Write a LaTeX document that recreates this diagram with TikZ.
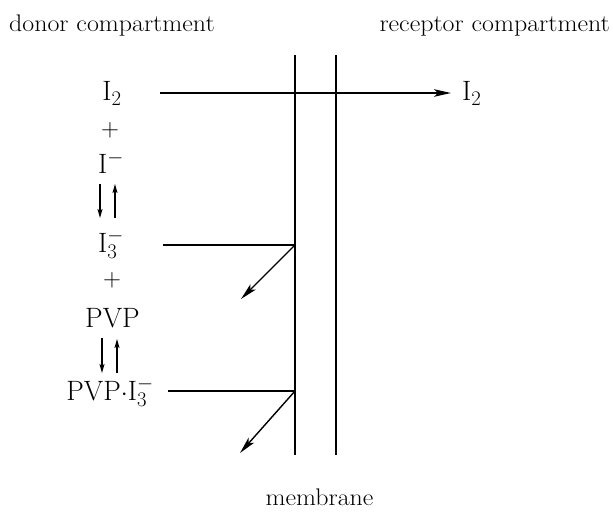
\documentclass[tikz,border=0pt]{standalone}
\usetikzlibrary{arrows.meta}
\newcommand\widetext[1]{\scalebox{1.08}[1]{#1}}
\begin{document}
\begin{tikzpicture}[x=1pt,y=-1pt,
  hdr/.style={font=\fontsize{24}{28}\selectfont, inner sep=0pt},
  chem/.style={font=\fontsize{28}{32}\selectfont, inner sep=0pt},
  wall/.style={line width=1.4pt},
  flow/.style={line width=1.4pt},
  big/.style={-{Stealth[length=17pt,width=7.5pt,inset=4pt]}},
  small/.style={line width=1.3pt,-{Stealth[length=9pt,width=5pt,inset=2pt]}}]
\useasboundingbox (0,0) rectangle (613,516);
% headers
\node[hdr, anchor=base west] (donor) at (9,32) {\widetext{donor compartment}};
\node[hdr, anchor=base east] (recep) at (610,32) {\widetext{receptor compartment}};
\node[hdr, anchor=base] (memb) at (319.5,505) {\widetext{membrane}};
% membrane walls
\coordinate (w1t) at (295,55); \coordinate (w1b) at (295,455);
\coordinate (w2t) at (336,55); \coordinate (w2b) at (336,455);
\draw[wall] (w1t) -- (w1b);
\draw[wall] (w2t) -- (w2b);
% species
\node[chem, anchor=base] (i2) at (112,101) {I$_2$};
\node[chem] (p1) at (110,130) {$+$};
\node[chem, anchor=base] (im) at (111,173) {I$^-$};
\node[chem, anchor=base] (i3) at (111,252) {I$_3^-$};
\node[chem] (p2) at (112,280) {$+$};
\node[chem, anchor=base] (pvp) at (112.5,327) {PVP};
\node[chem, anchor=base] (pvpi) at (110,400) {PVP$\cdot$I$_3^-$};
\node[chem, anchor=base west] (i2r) at (462,101) {I$_2$};
% equilibrium arrows
\coordinate (e1a) at (100,184); \coordinate (e1b) at (100,218);
\coordinate (e1c) at (115,218); \coordinate (e1d) at (115,184);
\draw[small] (e1a) -- (e1b);
\draw[small] (e1c) -- (e1d);
\coordinate (e2a) at (102,338); \coordinate (e2b) at (102,373);
\coordinate (e2c) at (117,373); \coordinate (e2d) at (117,339);
\draw[small] (e2a) -- (e2b);
\draw[small] (e2c) -- (e2d);
% I2 permeation
\coordinate (s1) at (160,93); \coordinate (t1) at (451,93);
\draw[flow,big] (s1) -- (t1);
% I3- adsorption
\coordinate (s2) at (163,245); \coordinate (h2) at (295,245); \coordinate (t2) at (241,299);
\draw[flow] (s2) -- (h2);
\draw[flow,big] (h2) -- (t2);
% PVP-I3- adsorption
\coordinate (s3) at (168,391); \coordinate (h3) at (295,391); \coordinate (t3) at (240,453);
\draw[flow] (s3) -- (h3);
\draw[flow,big] (h3) -- (t3);
\end{tikzpicture}
\end{document}
